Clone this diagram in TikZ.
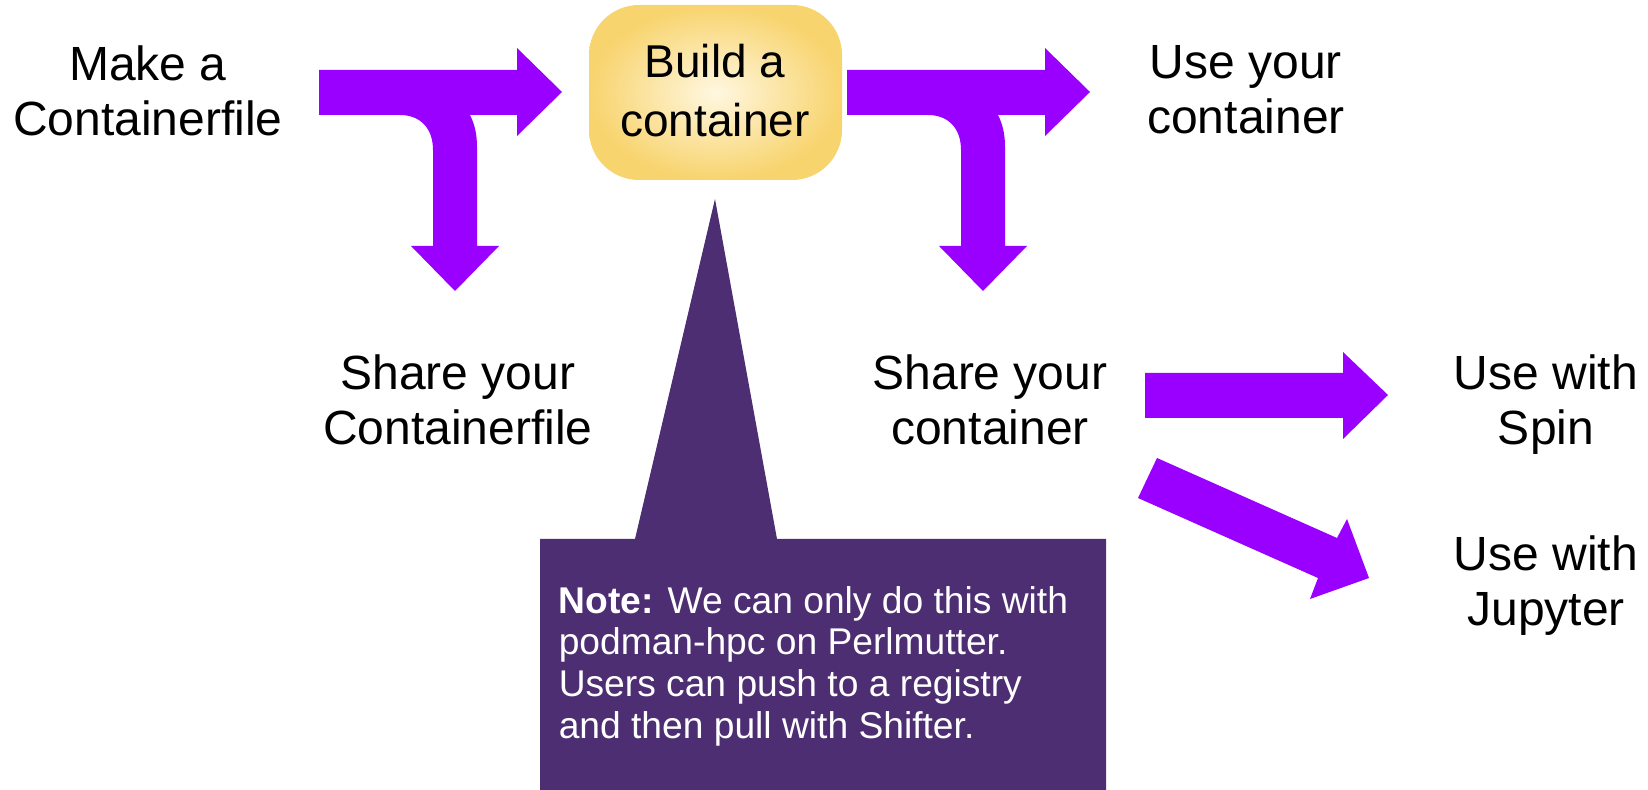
\documentclass[tikz,border=0pt]{standalone}
\usepackage{fontspec}
\setmainfont{Liberation Sans}

\tikzset{every picture/.style={line width=0.75pt}}
\tikzset{
  arw/.style={fill={rgb, 255:red, 153; green, 0; blue, 255 }, draw=none},
  lbl/.style={anchor=base, align=center, inner sep=0.75pt, font=\fontsize{24}{27.5}\selectfont}
}

\begin{document}
\begin{tikzpicture}[x=0.5pt,y=0.5pt,yscale=-1,xscale=1]
\useasboundingbox (0,0) rectangle (1648,790);

%Shape: Note callout [id:note]
\fill [color={rgb, 255:red, 77; green, 46; blue, 115 }] (540,539) -- (635,539) -- (715,199) -- (777,539) -- (1106,539) -- (1106,790) -- (540,790) -- cycle ;

%Shape: Rounded Rect [id:build]
\draw [draw=none, inner color={rgb, 255:red, 255; green, 247; blue, 224 }, outer color={rgb, 255:red, 248; green, 212; blue, 110 }] [rounded corners=25] (589,5) rectangle (842,180) ;

%Shape: T Arrow [id:tarrow1]
\fill [arw] (319,70) -- (517,70) -- (517,48) -- (562,92) -- (517,136) -- (517,115) -- (470,115) .. controls (475,125) and (477,135) .. (477,147) -- (477,246) -- (499,246) -- (455,291) -- (411,246) -- (433,246) -- (433,150) .. controls (433,128) and (420,115) .. (400,115) -- (319,115) -- cycle ;
%Shape: T Arrow [id:tarrow2]
\fill [arw, xshift=264pt] (319,70) -- (517,70) -- (517,48) -- (562,92) -- (517,136) -- (517,115) -- (470,115) .. controls (475,125) and (477,135) .. (477,147) -- (477,246) -- (499,246) -- (455,291) -- (411,246) -- (433,246) -- (433,150) .. controls (433,128) and (420,115) .. (400,115) -- (319,115) -- cycle ;
%Shape: Right Arrow [id:spinarrow]
\fill [arw] (1145,373) -- (1343,373) -- (1343,352) -- (1388,395) -- (1343,439) -- (1343,418) -- (1145,418) -- cycle ;
%Shape: Right Arrow [id:jupyterarrow]
\fill [arw] (1157,458) -- (1337,538) -- (1347,519) -- (1369,578) -- (1310,599) -- (1318,578) -- (1138,498) -- cycle ;

% Text Node
\draw (148,136) node [lbl] (make) {Make a\\Containerfile};
% Text Node
\draw (715,137) node [lbl, font=\fontsize{23}{29.5}\selectfont] (build) {Build a\\container};
% Text Node
\draw (1246,134) node [lbl] (useyour) {Use your\\container};
% Text Node
\draw (458,445) node [lbl] (sharefile) {Share your\\Containerfile};
% Text Node
\draw (990,445) node [lbl] (sharecont) {Share your\\container};
% Text Node
\draw (1546,445) node [lbl] (spin) {Use with\\Spin};
% Text Node
\draw (1546,625) node [lbl] (jupyter) {Use with\\Jupyter};
% Text Node
\draw (558,738) node [anchor=base west, align=left, inner sep=0pt, text=white, font=\fontsize{18.6}{20.8}\selectfont] (note) {\textbf{Note:} We can only do this with\\podman-hpc on Perlmutter.\\Users can push to a registry\\and then pull with Shifter.};

\end{tikzpicture}
\end{document}
